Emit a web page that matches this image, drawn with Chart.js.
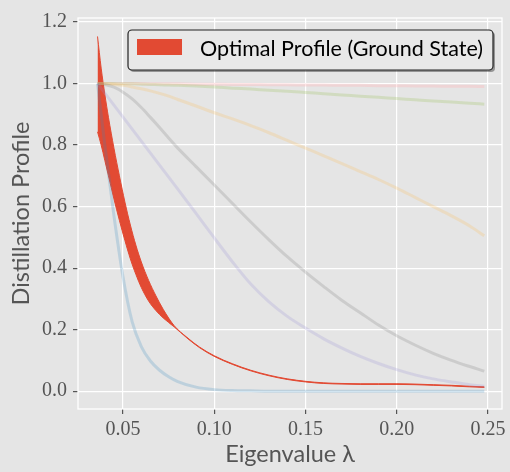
<!DOCTYPE html>
<html>
<head>
<meta charset="utf-8">
<script src="https://cdn.jsdelivr.net/npm/chart.js@4.4.0/dist/chart.umd.min.js"></script>
<style>
  html, body { margin: 0; padding: 0; background: #e5e5e5; }
</style>
</head>
<body>
<canvas id="chart" width="510" height="472"></canvas>
<script>
// eigenvalue grid for the optimal-profile band
const lambdaRed = [0.036, 0.038, 0.040, 0.042, 0.045, 0.048, 0.051, 0.054, 0.057, 0.060, 0.064, 0.068, 0.072, 0.078, 0.085, 0.092, 0.10, 0.11, 0.12, 0.13, 0.14, 0.15, 0.16, 0.17, 0.18, 0.19, 0.20, 0.21, 0.22, 0.23, 0.24, 0.248];
const redUpper = [1.153, 1.05, 0.965, 0.89, 0.79, 0.70, 0.615, 0.54, 0.475, 0.42, 0.36, 0.31, 0.266, 0.213, 0.175, 0.143, 0.115, 0.089, 0.068, 0.052, 0.040, 0.032, 0.027, 0.025, 0.024, 0.024, 0.024, 0.023, 0.021, 0.019, 0.016, 0.014];
const redLower = [0.843, 0.80, 0.75, 0.70, 0.625, 0.555, 0.49, 0.43, 0.38, 0.337, 0.293, 0.262, 0.238, 0.209, 0.173, 0.141, 0.113, 0.087, 0.066, 0.050, 0.038, 0.030, 0.025, 0.023, 0.022, 0.022, 0.022, 0.021, 0.019, 0.017, 0.014, 0.012];

// eigenvalue grid for the other (faded) profiles
const lambdaBg = [0.036, 0.04, 0.045, 0.05, 0.055, 0.06, 0.065, 0.07, 0.075, 0.08, 0.09, 0.10, 0.11, 0.12, 0.13, 0.14, 0.15, 0.16, 0.17, 0.18, 0.19, 0.20, 0.21, 0.22, 0.23, 0.24, 0.248];
const blueProfile   = [1.0, 0.80, 0.57, 0.37, 0.225, 0.145, 0.098, 0.068, 0.047, 0.031, 0.013, 0.005, 0.002, 0.001, 0, 0, 0, 0, 0, 0, 0, 0, 0, 0, 0, 0, 0];
const purpleProfile = [1.0, 0.969, 0.93, 0.891, 0.852, 0.813, 0.774, 0.735, 0.696, 0.657, 0.578, 0.498, 0.42, 0.348, 0.29, 0.243, 0.205, 0.17, 0.14, 0.113, 0.09, 0.07, 0.053, 0.04, 0.03, 0.021, 0.016];
const grayProfile   = [1.0, 0.997, 0.988, 0.972, 0.95, 0.922, 0.89, 0.857, 0.823, 0.79, 0.73, 0.67, 0.61, 0.55, 0.492, 0.437, 0.387, 0.34, 0.295, 0.255, 0.215, 0.18, 0.15, 0.123, 0.10, 0.08, 0.065];
const yellowProfile = [1.0, 0.999, 0.997, 0.994, 0.989, 0.983, 0.976, 0.968, 0.959, 0.948, 0.927, 0.905, 0.885, 0.863, 0.84, 0.815, 0.79, 0.765, 0.74, 0.714, 0.688, 0.66, 0.63, 0.60, 0.57, 0.537, 0.505];
const greenProfile  = [1.0, 1.0, 1.0, 0.999, 0.999, 0.998, 0.997, 0.996, 0.995, 0.994, 0.992, 0.989, 0.985, 0.982, 0.978, 0.975, 0.971, 0.967, 0.963, 0.959, 0.955, 0.951, 0.947, 0.943, 0.94, 0.936, 0.933];
const pinkProfile   = [1.0, 1.0, 1.0, 1.0, 1.0, 1.0, 0.999, 0.999, 0.999, 0.999, 0.998, 0.998, 0.997, 0.997, 0.996, 0.996, 0.995, 0.995, 0.994, 0.994, 0.993, 0.993, 0.992, 0.992, 0.991, 0.991, 0.99];

const xTicks = [0.05, 0.10, 0.15, 0.20, 0.25];
const yTicks = [0.0, 0.2, 0.4, 0.6, 0.8, 1.0, 1.2];

const pts = (xs, ys) => xs.map((x, i) => ({ x: x, y: ys[i] }));

const faded = (label, color, ys) => ({
  label: label,
  data: pts(lambdaBg, ys),
  borderColor: color,
  borderWidth: 3,
  pointRadius: 0,
  cubicInterpolationMode: 'monotone',
  fill: false,
  order: 0
});

// background + frame + legend drawn by hand
const decor = {
  id: 'decor',
  beforeDraw(chart) {
    const ctx = chart.ctx;
    ctx.save();
    ctx.fillStyle = '#e5e5e5';
    ctx.fillRect(0, 0, chart.width, chart.height);
    ctx.restore();
  },
  beforeDatasetsDraw(chart) {
    const { ctx, chartArea: a } = chart;
    ctx.save();
    ctx.strokeStyle = '#ffffff';
    ctx.lineWidth = 1.3;
    ctx.strokeRect(a.left, a.top, a.right - a.left, a.bottom - a.top);
    ctx.restore();
  },
  afterDraw(chart) {
    const { ctx, chartArea: a } = chart;
    const ds = chart.data.datasets[0];
    ctx.save();
    ctx.font = '21.5px Lato';
    const tw = ctx.measureText(ds.label).width;
    const right = a.right - 9, top = a.top + 12, h = 40;
    const w = 9 + 45 + 18 + tw + 10;
    const left = right - w;
    const box = (x, y) => { ctx.beginPath(); ctx.roundRect(x, y, w, h, 4); };
    ctx.fillStyle = 'rgba(0,0,0,0.35)';
    box(left + 2, top + 2); ctx.fill();
    ctx.fillStyle = '#e8e8e8';
    box(left, top); ctx.fill();
    ctx.strokeStyle = '#222';
    ctx.lineWidth = 1.2;
    ctx.stroke();
    ctx.fillStyle = ds.backgroundColor;
    ctx.fillRect(left + 9, top + 9, 45, 16);
    ctx.fillStyle = '#000';
    ctx.textBaseline = 'middle';
    ctx.fillText(ds.label, left + 72, top + 19);
    ctx.restore();
  }
};

new Chart(document.getElementById('chart'), {
  type: 'line',
  data: {
    datasets: [
      {
        label: 'Optimal Profile (Ground State)',
        data: pts(lambdaRed, redUpper),
        borderColor: '#E24A33',
        backgroundColor: '#E24A33',
        borderWidth: 1,
        pointRadius: 0,
        cubicInterpolationMode: 'monotone',
        fill: '+1',
        order: 10
      },
      {
        label: 'lower',
        data: pts(lambdaRed, redLower),
        borderColor: '#E24A33',
        borderWidth: 1,
        pointRadius: 0,
        cubicInterpolationMode: 'monotone',
        fill: false,
        order: 10
      },
      faded('p1', 'rgba(52,138,189,0.22)', blueProfile),
      faded('p2', 'rgba(152,142,213,0.22)', purpleProfile),
      faded('p3', 'rgba(119,119,119,0.22)', grayProfile),
      faded('p4', 'rgba(251,193,94,0.25)', yellowProfile),
      faded('p5', 'rgba(142,186,66,0.22)', greenProfile),
      faded('p6', 'rgba(255,181,184,0.35)', pinkProfile)
    ]
  },
  options: {
    responsive: false,
    animation: false,
    layout: { padding: { left: 0, right: 8, top: 11, bottom: 0 } },
    plugins: { legend: { display: false }, tooltip: { enabled: false } },
    scales: {
      x: {
        type: 'linear',
        min: 0.0253,
        max: 0.2577,
        afterBuildTicks: s => { s.ticks = xTicks.map(v => ({ value: v })); },
        afterFit: s => { s.height = 63; },
        grid: { color: '#ffffff', lineWidth: 1.2, tickColor: '#555', tickLength: 5 },
        border: { display: false },
        ticks: {
          callback: v => v.toFixed(2),
          font: { family: 'Liberation Serif', size: 20 },
          color: '#555',
          padding: 4,
          maxRotation: 0
        },
        title: {
          display: true,
          text: 'Eigenvalue λ',
          font: { family: 'Lato', size: 23.5 },
          color: '#555',
          padding: { top: 0, bottom: 3 }
        }
      },
      y: {
        min: -0.058,
        max: 1.213,
        afterBuildTicks: s => { s.ticks = yTicks.map(v => ({ value: v })); },
        afterFit: s => { s.width = 78; },
        grid: { color: '#ffffff', lineWidth: 1.2, tickColor: '#555', tickLength: 5 },
        border: { display: false },
        ticks: {
          callback: v => v.toFixed(1),
          font: { family: 'Liberation Serif', size: 20 },
          color: '#555',
          padding: 6
        },
        title: {
          display: true,
          text: 'Distillation Profile',
          font: { family: 'Lato', size: 23.5 },
          color: '#555',
          padding: { top: 7, bottom: 0 }
        }
      }
    }
  },
  plugins: [decor]
});
</script>
</body>
</html>
